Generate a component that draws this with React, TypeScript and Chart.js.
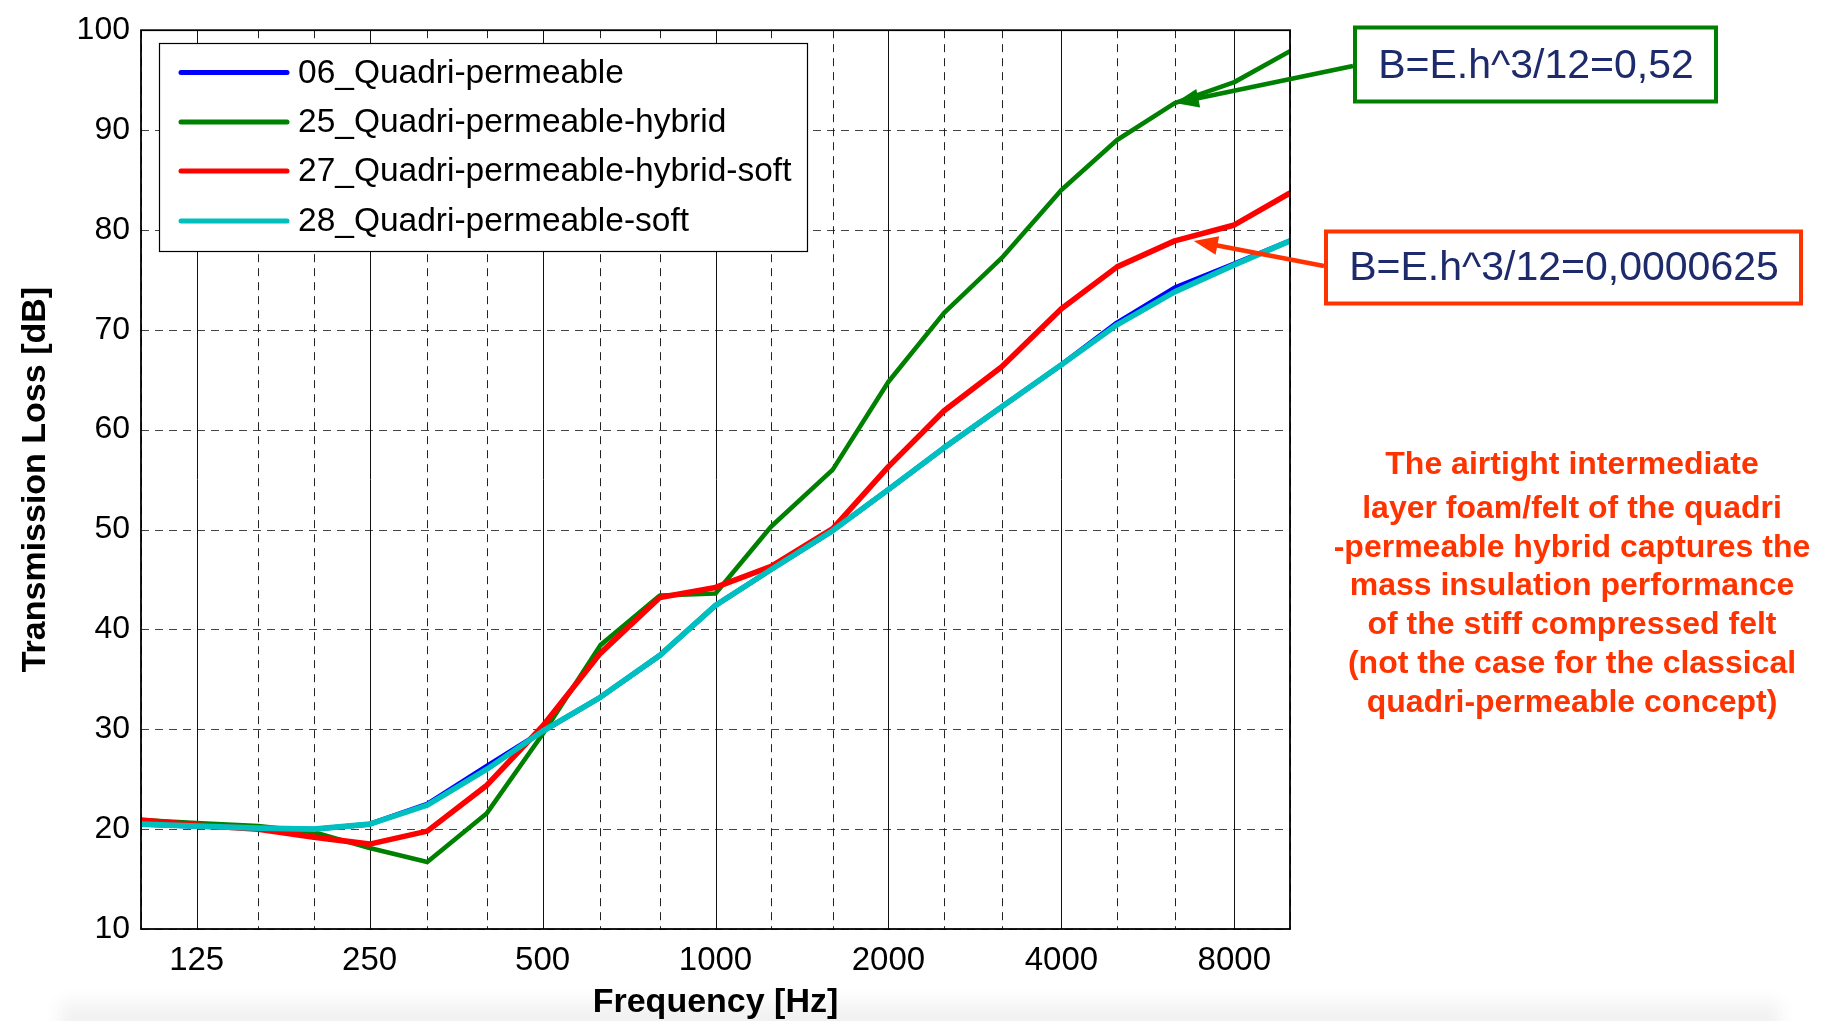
import React, { useEffect, useRef } from 'react';
import { Chart, registerables } from 'chart.js';

Chart.register(...registerables);

// One-third octave band centre frequencies (Hz)
const BANDS_HZ = [100, 125, 160, 200, 250, 315, 400, 500, 630, 800, 1000, 1250, 1600, 2000, 2500, 3150, 4000, 5000, 6300, 8000, 10000];
// Octave bands that carry a tick label and a solid grid line
const OCTAVE_LABELS = [125, 250, 500, 1000, 2000, 4000, 8000];
const Y_TICKS = [10, 20, 30, 40, 50, 60, 70, 80, 90, 100];

// Transmission loss per band (dB)
const TL_06_QUADRI = [20.5, 20.3, 20.1, 20.0, 20.5, 22.5, 26.3, 29.8, 33.2, 37.4, 42.4, 46.0, 49.9, 54.0, 58.2, 62.3, 66.5, 70.7, 74.2, 76.6, 78.9];
const TL_25_HYBRID = [20.9, 20.6, 20.3, 19.7, 18.1, 16.7, 21.6, 29.5, 38.4, 43.4, 43.6, 50.3, 56.0, 64.8, 71.7, 77.2, 84.0, 89.0, 92.7, 94.8, 97.9];
const TL_27_HYBRID_SOFT = [20.9, 20.4, 20.0, 19.2, 18.5, 19.8, 24.4, 30.3, 37.6, 43.2, 44.2, 46.3, 50.1, 56.3, 61.9, 66.3, 72.1, 76.3, 78.9, 80.5, 83.7];
const TL_28_SOFT = [20.5, 20.3, 20.1, 20.0, 20.5, 22.4, 26.0, 29.8, 33.2, 37.4, 42.4, 46.0, 49.9, 54.0, 58.2, 62.3, 66.5, 70.5, 73.8, 76.5, 78.9];

const SERIES_LABELS = ['06_Quadri-permeable', '25_Quadri-permeable-hybrid', '27_Quadri-permeable-hybrid-soft', '28_Quadri-permeable-soft'];
const SERIES_COLORS = ['#0000ff', '#008000', '#ff0000', '#00bfbf'];
const SERIES_WIDTHS = [5, 4.6, 5.6, 5.6];
const SERIES_VALUES = [TL_06_QUADRI, TL_25_HYBRID, TL_27_HYBRID_SOFT, TL_28_SOFT];

// Callouts: bending stiffness notes and where their arrows point (Hz, dB)
const STIFF_NOTE = 'B=E.h^3/12=0,52';
const STIFF_ARROW_HZ = 6300;
const SOFT_NOTE = 'B=E.h^3/12=0,0000625';
const SOFT_ARROW_HZ = 6800;
const SOFT_ARROW_DB = 78.9;

const COMMENT_LINES = [
  'The airtight intermediate',
  'layer foam/felt of the quadri',
  '-permeable hybrid captures the',
  'mass insulation performance',
  'of the stiff compressed felt',
  '(not the case for the classical',
  'quadri-permeable concept)',
];

const FONT = "'Liberation Sans', Arial, Helvetica, sans-serif";
const NAVY = '#1d2a6b';
const ORANGE_RED = '#ff3300';

const gridPlugin = {
  id: 'tlGrid',
  beforeDatasetsDraw(chart: any) {
    const { ctx, chartArea: a, scales } = chart;
    const x = scales.x;
    const y = scales.y;
    ctx.save();
    ctx.lineWidth = 1;
    ctx.setLineDash([8, 6]);
    ctx.strokeStyle = '#444';
    for (const v of Y_TICKS) {
      const py = Math.round(y.getPixelForValue(v)) + 0.5;
      ctx.beginPath();
      ctx.moveTo(a.left, py);
      ctx.lineTo(a.right, py);
      ctx.stroke();
    }
    for (const f of BANDS_HZ) {
      const px = Math.round(x.getPixelForValue(f)) + 0.5;
      if (OCTAVE_LABELS.includes(f)) {
        ctx.setLineDash([]);
        ctx.strokeStyle = '#111';
      } else {
        ctx.setLineDash([8, 6]);
        ctx.strokeStyle = '#222';
      }
      ctx.beginPath();
      ctx.moveTo(px, a.top);
      ctx.lineTo(px, a.bottom);
      ctx.stroke();
    }
    ctx.restore();
  },
  afterDatasetsDraw(chart: any) {
    const { ctx, chartArea: a } = chart;
    ctx.save();
    ctx.strokeStyle = '#000';
    ctx.lineWidth = 1.8;
    ctx.strokeRect(a.left, a.top, a.right - a.left, a.bottom - a.top);
    ctx.restore();
  },
};

const legendPlugin = {
  id: 'tlLegend',
  afterDraw(chart: any) {
    const { ctx } = chart;
    const box = { x: 159.5, y: 43.5, w: 648, h: 208 };
    ctx.save();
    ctx.fillStyle = '#fff';
    ctx.fillRect(box.x, box.y, box.w, box.h);
    ctx.strokeStyle = '#000';
    ctx.lineWidth = 1.2;
    ctx.strokeRect(box.x, box.y, box.w, box.h);
    const rows = [72.5, 122, 171, 221];
    chart.data.datasets.forEach((ds: any, i: number) => {
      const ry = rows[i];
      ctx.strokeStyle = ds.borderColor;
      ctx.lineWidth = 5;
      ctx.lineCap = 'round';
      ctx.beginPath();
      ctx.moveTo(181, ry);
      ctx.lineTo(287, ry);
      ctx.stroke();
      ctx.fillStyle = '#000';
      ctx.font = `33.5px ${FONT}`;
      ctx.textBaseline = 'middle';
      ctx.textAlign = 'left';
      ctx.fillText(ds.label, 298, ry + 1);
    });
    ctx.restore();
  },
};

function drawArrow(ctx: CanvasRenderingContext2D, x0: number, y0: number, x1: number, y1: number, color: string) {
  const ang = Math.atan2(y1 - y0, x1 - x0);
  const L = 24;
  const H = 9.5;
  const bx = x1 - L * Math.cos(ang);
  const by = y1 - L * Math.sin(ang);
  ctx.strokeStyle = color;
  ctx.fillStyle = color;
  ctx.lineWidth = 4.5;
  ctx.lineCap = 'butt';
  ctx.beginPath();
  ctx.moveTo(x0, y0);
  ctx.lineTo(bx + 4 * Math.cos(ang), by + 4 * Math.sin(ang));
  ctx.stroke();
  ctx.beginPath();
  ctx.moveTo(x1, y1);
  ctx.lineTo(bx + H * Math.sin(ang), by - H * Math.cos(ang));
  ctx.lineTo(bx - H * Math.sin(ang), by + H * Math.cos(ang));
  ctx.closePath();
  ctx.fill();
}

const notesPlugin = {
  id: 'tlNotes',
  afterDraw(chart: any) {
    const { ctx, scales } = chart;
    const x = scales.x;
    const y = scales.y;
    ctx.save();

    // stiff felt callout
    ctx.strokeStyle = '#008000';
    ctx.lineWidth = 4;
    ctx.strokeRect(1355, 27.5, 361, 74);
    ctx.fillStyle = NAVY;
    ctx.font = `41px ${FONT}`;
    ctx.textAlign = 'center';
    ctx.textBaseline = 'middle';
    ctx.fillText(STIFF_NOTE, 1536, 67);
    const stiffDb = TL_25_HYBRID[BANDS_HZ.indexOf(STIFF_ARROW_HZ)];
    drawArrow(ctx, 1353, 66, x.getPixelForValue(STIFF_ARROW_HZ), y.getPixelForValue(stiffDb), '#008000');

    // soft felt callout
    ctx.strokeStyle = ORANGE_RED;
    ctx.lineWidth = 4;
    ctx.strokeRect(1326, 231.5, 475, 72);
    ctx.fillStyle = NAVY;
    ctx.font = `41px ${FONT}`;
    ctx.fillText(SOFT_NOTE, 1564, 269);
    drawArrow(ctx, 1324, 266, x.getPixelForValue(SOFT_ARROW_HZ), y.getPixelForValue(SOFT_ARROW_DB), ORANGE_RED);

    // comment block
    ctx.fillStyle = ORANGE_RED;
    ctx.font = `bold 32px ${FONT}`;
    COMMENT_LINES.forEach((line, i) => {
      const ly = i === 0 ? 465 : 509 + (i - 1) * 38.8;
      ctx.fillText(line, 1572, ly);
    });
    ctx.restore();
  },
};

export default function App() {
  const canvasRef = useRef<HTMLCanvasElement | null>(null);

  useEffect(() => {
    if (!canvasRef.current) return;
    const datasets = SERIES_VALUES.map((vals, i) => ({
      label: SERIES_LABELS[i],
      data: BANDS_HZ.map((f, k) => ({ x: f, y: vals[k] })),
      borderColor: SERIES_COLORS[i],
      backgroundColor: SERIES_COLORS[i],
      borderWidth: SERIES_WIDTHS[i],
      pointRadius: 0,
      tension: 0,
      fill: false,
      borderJoinStyle: 'round' as const,
      order: 4 - i,
    }));

    const chart = new Chart(canvasRef.current, {
      type: 'line',
      data: { datasets },
      options: {
        responsive: false,
        animation: false,
        devicePixelRatio: 1,
        layout: { padding: { top: 24, right: 533, bottom: 0, left: 0 } },
        plugins: {
          legend: { display: false },
          tooltip: { enabled: false },
        },
        scales: {
          x: {
            type: 'logarithmic',
            min: 100,
            max: 10000,
            afterBuildTicks: (s: any) => {
              s.ticks = BANDS_HZ.map((v) => ({ value: v }));
            },
            afterFit: (s: any) => {
              s.height = 92;
            },
            grid: { display: false, drawTicks: false },
            border: { display: false },
            ticks: {
              autoSkip: false,
              maxRotation: 0,
              minRotation: 0,
              padding: 12,
              color: '#000',
              font: { family: FONT, size: 33 },
              callback: (v: any) => (OCTAVE_LABELS.includes(Number(v)) ? String(v) : ''),
            },
            title: {
              display: true,
              text: 'Frequency [Hz]',
              color: '#000',
              font: { family: FONT, size: 34, weight: 'bold', lineHeight: 1 },
              padding: { top: 0, bottom: 1 },
            },
          },
          y: {
            type: 'linear',
            min: 10,
            max: 100,
            afterBuildTicks: (s: any) => {
              s.ticks = Y_TICKS.map((v) => ({ value: v }));
            },
            afterFit: (s: any) => {
              s.width = 141;
            },
            grid: { display: false, drawTicks: false },
            border: { display: false },
            ticks: {
              padding: 11,
              color: '#000',
              font: { family: FONT, size: 32 },
            },
            title: {
              display: true,
              text: 'Transmission Loss [dB]',
              color: '#000',
              font: { family: FONT, size: 34, weight: 'bold', lineHeight: 1 },
              padding: { top: 19, bottom: 0 },
            },
          },
        },
      } as any,
      plugins: [gridPlugin, legendPlugin, notesPlugin],
    });

    return () => chart.destroy();
  }, []);

  return (
    <div style={{ position: 'absolute', left: 0, top: 0, width: 1823, height: 1021, background: '#fff', overflow: 'hidden' }}>
      <div
        style={{
          position: 'absolute',
          left: 60,
          top: 1002,
          width: 1720,
          height: 40,
          background: 'rgba(0,0,0,0.05)',
          filter: 'blur(8px)',
        }}
      />
      <canvas ref={canvasRef} width={1823} height={1021} style={{ position: 'absolute', left: 0, top: 0, display: 'block' }} />
    </div>
  );
}
